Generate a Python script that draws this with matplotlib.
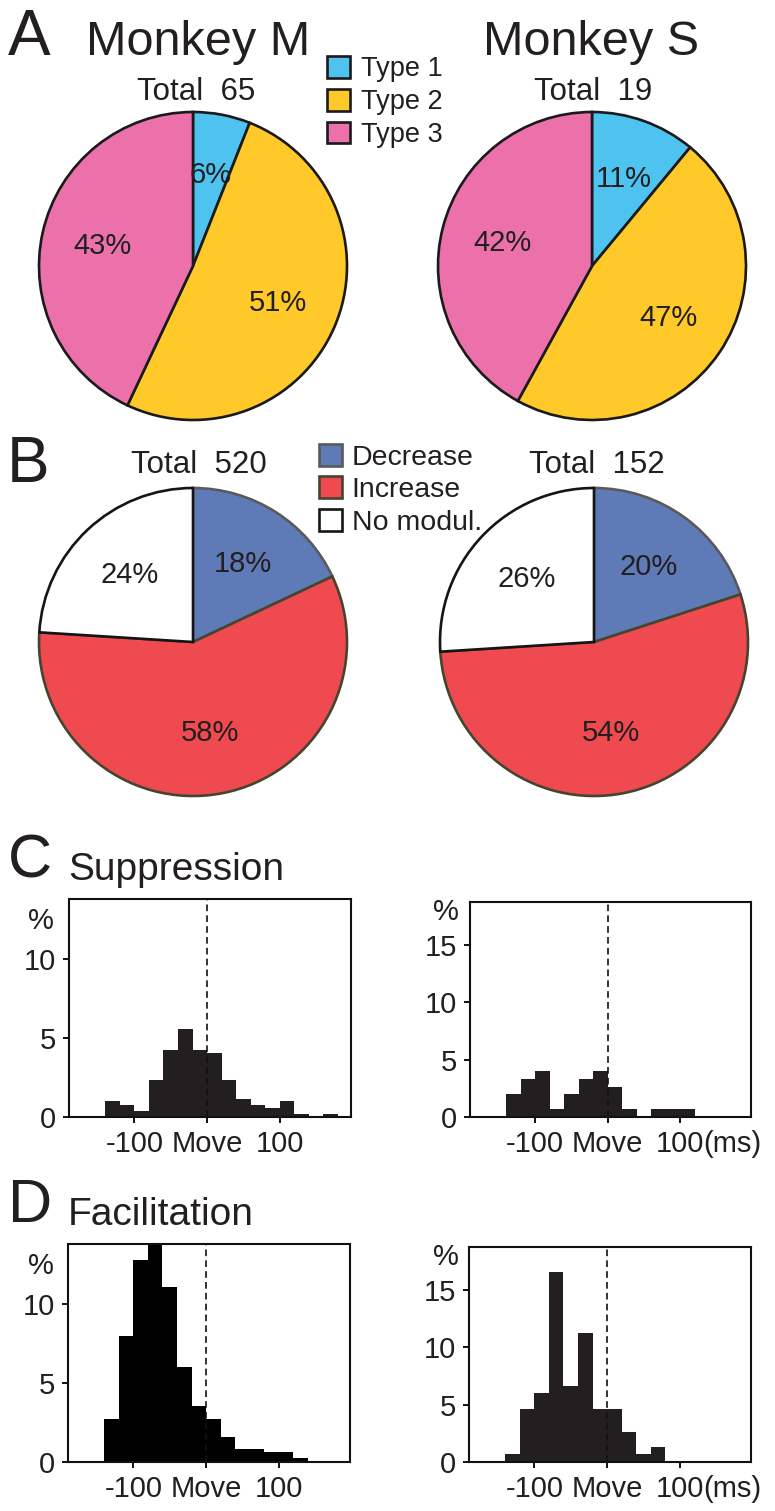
import numpy as np
import matplotlib
matplotlib.use("Agg")
import matplotlib.pyplot as plt

plt.rcParams['font.family'] = ['Liberation Sans', 'DejaVu Sans']
TXT = '#231f20'
plt.rcParams['text.color'] = TXT

W, H = 775, 1511

# ---------------- data ----------------
type_labels = ['Type 1', 'Type 2', 'Type 3']
type_M = [6, 51, 43]
type_S = [11, 47, 42]
total_A = [65, 19]

mod_labels = ['Decrease', 'Increase', 'No modul.']
mod_M = [18, 58, 24]
mod_S = [20, 54, 26]
total_B = [520, 152]

monkeys = ['Monkey M', 'Monkey S']

# histogram bins (left edges, ms) and percentages
bins_supp_M = [-140, -120, -100, -80, -60, -40, -20, 0, 20, 40, 60, 80, 100, 120, 140, 160]
supp_M = [1.0, 0.78, 0.4, 2.32, 4.24, 5.6, 4.24, 4.05, 2.32, 1.16, 0.78, 0.59, 1.0, 0.2, 0.0, 0.2]
bins_supp_S = [-140, -120, -100, -80, -60, -40, -20, 0, 20, 40, 60, 80, 100]
supp_S = [2.0, 3.3, 3.97, 0.66, 2.0, 3.3, 3.97, 2.65, 0.66, 0.0, 0.66, 0.66, 0.66]
bins_fac_M = [-140, -120, -100, -80, -60, -40, -20, 0, 20, 40, 60, 80, 100, 120]
fac_M = [2.75, 7.97, 12.8, 14.6, 11.06, 6.03, 3.55, 2.75, 1.59, 0.82, 0.82, 0.66, 0.66, 0.25]
bins_fac_S = [-140, -120, -100, -80, -60, -40, -20, 0, 20, 40, 60]
fac_S = [0.66, 4.64, 5.96, 16.56, 6.62, 11.26, 4.64, 4.64, 2.65, 0.66, 1.32]
bin_width = 20

xtick_vals = [-100, 0, 100]
xtick_labels = ['-100', 'Move', '100']

type_colors = ['#4EC3F0', '#FFC929', '#EC71AB']
mod_colors = ['#5E7AB7', '#EF4A50', '#FFFFFF']
mod_edges = ['#5a5a5a', '#45452f', '#151515']

fig = plt.figure(figsize=(W / 100, H / 100), dpi=100)


def px_axes(x0, y0, x1, y1):
    return fig.add_axes([x0 / W, 1 - y1 / H, (x1 - x0) / W, (y1 - y0) / H])


def ftext(x, y, s, **kw):
    return fig.text(x / W, 1 - y / H, s, **kw)


def draw_pie(cx, cy, r, vals, colors, edges, lw):
    ax = px_axes(cx - r, cy - r, cx + r, cy + r)
    wedges, _, autotexts = ax.pie(vals, colors=colors, startangle=90, counterclock=False,
                                  autopct=lambda p: f'{p:.0f}%', pctdistance=0.6,
                                  wedgeprops=dict(linewidth=lw),
                                  textprops=dict(fontsize=21, color=TXT))
    for w, ec in zip(wedges, edges):
        w.set_edgecolor(ec)
        w.set_clip_on(False)
    ax.set_xlim(-1, 1)
    ax.set_ylim(-1, 1)
    ax.set_aspect('auto')
    ax.axis('off')
    return wedges


# ---------------- A ----------------
R = 154
wA = draw_pie(193, 266, R, type_M, type_colors, ['#1a1a1a'] * 3, 1.9)
draw_pie(592, 266, R, type_S, type_colors, ['#1a1a1a'] * 3, 1.9)

ftext(8, 55, 'A', fontsize=46, va='baseline', ha='left')
ftext(198, 55, monkeys[0], fontsize=35, va='baseline', ha='center')
ftext(591, 55, monkeys[1], fontsize=35, va='baseline', ha='center')
ftext(196, 100, f'Total  {total_A[0]}', fontsize=22.5, va='baseline', ha='center')
ftext(593, 100, f'Total  {total_A[1]}', fontsize=22.5, va='baseline', ha='center')

fig.legend(wA, type_labels, loc='upper left', bbox_to_anchor=(327 / W, 1 - 56 / H),
           frameon=False, fontsize=19.5, handlelength=0.85, handleheight=0.85,
           handletextpad=0.4, labelspacing=0.25, borderpad=0, borderaxespad=0)

# ---------------- B ----------------
wB = draw_pie(193, 642, R, mod_M, mod_colors, mod_edges, 1.9)
draw_pie(594, 642, R, mod_S, mod_colors, mod_edges, 1.9)

ftext(7, 482, 'B', fontsize=46, va='baseline', ha='left')
ftext(199, 473, f'Total  {total_B[0]}', fontsize=22.5, va='baseline', ha='center')
ftext(597, 473, f'Total  {total_B[1]}', fontsize=22.5, va='baseline', ha='center')

fig.legend(wB, mod_labels, loc='upper left', bbox_to_anchor=(319 / W, 1 - 444 / H),
           frameon=False, fontsize=20.5, handlelength=0.8, handleheight=0.8,
           handletextpad=0.35, labelspacing=0.2, borderpad=0, borderaxespad=0)


# ---------------- C / D ----------------
def draw_hist(box, bins, vals, ymax, yticks, color, ms=False, pct_xy=None):
    ax = px_axes(*box)
    ax.bar(bins, vals, width=bin_width, align='edge', color=color, edgecolor='none')
    ax.axvline(0, color='#111111', lw=1.2, ls=(0, (4, 2.5)), zorder=3)
    ax.set_xlim(-190, 198)
    ax.set_ylim(0, ymax)
    ax.set_xticks(xtick_vals)
    ax.set_xticklabels(xtick_labels)
    ax.set_yticks(yticks)
    ax.tick_params(direction='out', length=4.5, width=1.4, labelsize=21, pad=5,
                   colors='#111111', labelcolor=TXT)
    for s in ax.spines.values():
        s.set_linewidth(1.5)
        s.set_color('#111111')
    if ms:
        ax.annotate('(ms)', xy=(100, 0), xycoords=('data', 'axes fraction'),
                    xytext=(17, -9.5), textcoords='offset points',
                    ha='left', va='top', fontsize=21)
    ftext(pct_xy[0], pct_xy[1], '%', fontsize=21, ha='center', va='center')
    return ax


draw_hist((69, 899, 351, 1117), bins_supp_M, supp_M, 13.8, [0, 5, 10], '#231f20',
          pct_xy=(41, 921))
draw_hist((470, 902, 751, 1117), bins_supp_S, supp_S, 18.7, [0, 5, 10, 15], '#231f20',
          ms=True, pct_xy=(446, 912))
draw_hist((68, 1244, 350, 1462), bins_fac_M, fac_M, 13.8, [0, 5, 10], '#000000',
          pct_xy=(41, 1266))
draw_hist((469, 1247, 751, 1462), bins_fac_S, fac_S, 18.7, [0, 5, 10, 15], '#231f20',
          ms=True, pct_xy=(446, 1257))

ftext(8, 877, 'C', fontsize=44, va='baseline', ha='left')
ftext(68, 880, 'Suppression', fontsize=28, va='baseline', ha='left')
ftext(8, 1222, 'D', fontsize=44, va='baseline', ha='left')
ftext(68, 1225, 'Facilitation', fontsize=28, va='baseline', ha='left')

fig.savefig('out.png', dpi=100)
